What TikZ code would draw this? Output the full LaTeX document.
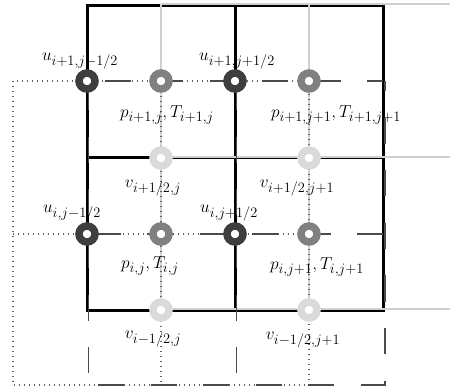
\documentclass[tikz,border=0pt]{standalone}
\usepackage{amsmath}
\definecolor{ucol}{HTML}{3E3E3E}
\definecolor{pcol}{HTML}{808080}
\definecolor{vcol}{HTML}{DADADA}
\definecolor{gridgray}{HTML}{D0D0D0}
\definecolor{dashcol}{HTML}{4A4A4A}
\definecolor{dotcol}{HTML}{606060}
\begin{document}
\begin{tikzpicture}[x=1pt,y=-1pt,
  pcell/.style={line width=3pt,black},
  ucv/.style={line width=2pt,gridgray},
  dotline/.style={line width=1.2pt,dotcol,dash pattern=on 1.2pt off 3.8pt},
  dashline/.style={line width=1.7pt,dashcol,dash pattern=on 26pt off 26.5pt},
  ring/.style={circle,fill=white,inner sep=0pt,minimum size=16pt,line width=7.5pt},
  upt/.style={ring,draw=ucol},
  ppt/.style={ring,draw=pcol},
  vpt/.style={ring,draw=vcol},
  lab/.style={inner sep=0pt,font=\fontsize{19}{22}\selectfont}
]
\useasboundingbox (0,0) rectangle (450,390);
% pressure cells (solid black)
\draw[pcell] (87,6) rectangle (383,310);
\draw[pcell] (235,6) -- (235,310);
\draw[pcell] (87,158) -- (383,158);
% light gray grid
\draw[ucv] (161,4.2) -- (450,4.2);
\draw[ucv] (161,156.6) -- (450,156.6);
\draw[ucv] (161,309.2) -- (450,309.2);
\draw[ucv] (161,4.2) -- (161,309.2);
\draw[ucv] (309,4.2) -- (309,309.2);
% dotted grid
\draw[dotline] (13,81) rectangle (309,385);
\draw[dotline] (161,81) -- (161,385);
\draw[dotline] (13,234) -- (309,234);
% dashed grid
\draw[dashline,dash phase=35pt] (87,81) -- (383,81);
\draw[dashline,dash phase=45pt] (87,234) -- (383,234);
\draw[dashline,dash phase=41.5pt] (87,385) -- (384,385);
\draw[dashline,dash phase=15.5pt] (384.8,81) -- (384.8,385.9);
\draw[dashline,dash phase=49pt] (88.6,81) -- (88.6,385);
\draw[dashline,dash phase=49pt] (236.6,81) -- (236.6,385);
% points
\node[upt] (u1) at (87,81) {};
\node[upt] (u2) at (235,81) {};
\node[upt] (u3) at (87,234) {};
\node[upt] (u4) at (235,234) {};
\node[ppt] (p1) at (161,81) {};
\node[ppt] (p2) at (309,81) {};
\node[ppt] (p3) at (161,234) {};
\node[ppt] (p4) at (309,234) {};
\node[vpt] (v1) at (161,158) {};
\node[vpt] (v2) at (309,158) {};
\node[vpt] (v3) at (161,310) {};
\node[vpt] (v4) at (309,310) {};
% labels
\node[lab] (lu1) at (80,61) {$u_{i+1,j-1/2}$};
\node[lab] (lu2) at (237,61) {$u_{i+1,j+1/2}$};
\node[lab] (lu3) at (72,213) {$u_{i,j-1/2}$};
\node[lab] (lu4) at (229,213) {$u_{i,j+1/2}$};
\node[lab] (lp1) at (167,115) {$p_{i+1,j},T_{i+1,j}$};
\node[lab] (lp2) at (336,115) {$p_{i+1,j+1},T_{i+1,j+1}$};
\node[lab] (lp3) at (150,266) {$p_{i,j},T_{i,j}$};
\node[lab] (lp4) at (317,267) {$p_{i,j+1},T_{i,j+1}$};
\node[lab] (lv1) at (153,188) {$v_{i+1/2,j}$};
\node[lab] (lv2) at (297,188) {$v_{i+1/2,j+1}$};
\node[lab] (lv3) at (153,339) {$v_{i-1/2,j}$};
\node[lab] (lv4) at (303,340) {$v_{i-1/2,j+1}$};
\end{tikzpicture}
\end{document}
